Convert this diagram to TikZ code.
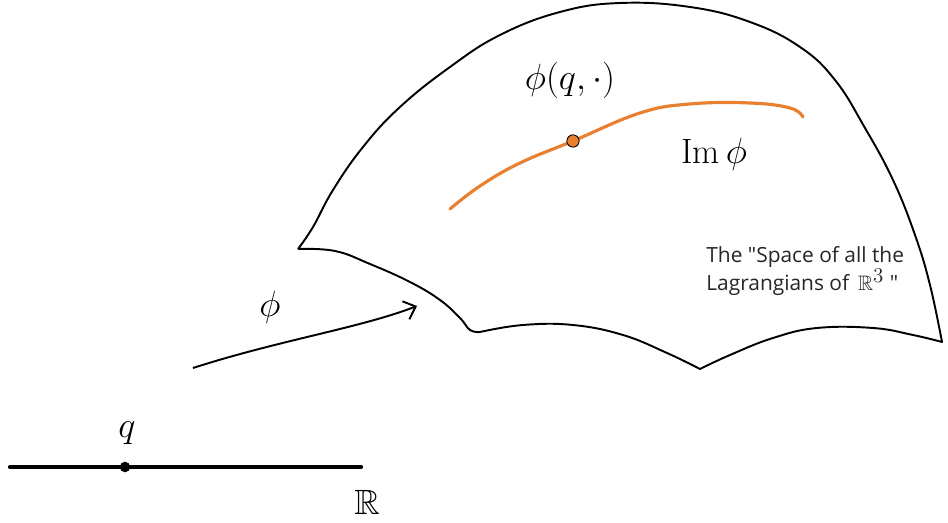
\documentclass[tikz,border=0pt]{standalone}
\usepackage{amssymb}
\usepackage{fontspec}
\newfontfamily\notefont{Open Sans}
\usepackage{tikz}
\usetikzlibrary{arrows.meta, positioning}

\definecolor{curveorange}{RGB}{232,128,48}

\begin{document}
\begin{tikzpicture}[x=0.02cm, y=-0.02cm]
        \tikzset{
            surface edge/.style={
                    draw=black, line width=1.1pt, line join=round
                },
            image curve/.style={
                    draw=curveorange, line width=1.8pt, line cap=round
                },
            map arrow/.style={
                    line width=1.1pt, -{Straight Barb[length=6pt, width=11pt]}
                },
            hand label/.style={
                    font=\fontsize{20}{22}\selectfont, inner sep=0pt
                },
            note label/.style={
                    font=\notefont\fontsize{11.9}{14.3}\selectfont, text=black!85,
                    align=left, inner sep=0pt, anchor=north west
                }
        }
        \useasboundingbox (0,0) rectangle (948,523);

        % the surface of Lagrangians
        \draw[surface edge] (298,249)
            -- plot[smooth, tension=0.7] coordinates {(298,249) (335,251) (370,264) (410,282) (440,300) (460,318) (470,330) (480,332)}
            -- plot[smooth, tension=0.7] coordinates {(480,332) (523,325) (573,325) (623,335) (667,353) (700,369)}
            -- plot[smooth, tension=0.7] coordinates {(700,369) (730,355) (773,338) (817,328) (873,328) (913,335) (942,342)}
            -- plot[smooth, tension=0.7] coordinates {(942,342) (930,285) (915,235) (893,180) (865,128) (835,80) (800,47) (750,22) (690,7) (620,3) (560,12) (500,35) (450,67) (400,107) (363,147) (333,190) (313,227) (298,249)};

        % image of phi
        \draw[image curve] plot[smooth, tension=0.7] coordinates {(450,209) (480,186) (520,163) (573,141) (640,113) (690,104) (750,103) (790,108) (803,117)};
        \node[circle, draw=black, line width=0.5pt, fill=curveorange, inner sep=0pt, minimum size=7pt] (qpoint) at (573,141) {};

        \node[hand label] (phiq) at (570,80) {$\phi(q,\cdot)$};
        \node[hand label] (imphi) at (714,154) {$\mathrm{Im}\,\phi$};
        \node[note label] (space) at (706,246) {The "Space of all the\\Lagrangians of \,$\mathbb{R}^{\textstyle 3}$ "};

        % the real line
        \coordinate (lineL) at (10,467);
        \coordinate (lineR) at (361,467);
        \draw[line width=2.4pt, line cap=round] (lineL) -- (lineR);
        \node[circle, fill=black, inner sep=0pt, minimum size=6pt] (q) at (125,467) {};
        \node[hand label] (qlabel) at (127,433) {$q$};
        \node[hand label] (reals) at (367,502) {$\mathbb{R}$};

        % the map
        \coordinate (mapstart) at (193,368);
        \coordinate (mapend) at (417,306);
        \draw[map arrow] (mapstart) .. controls (280,340) and (360,328) .. (mapend);
        \node[hand label] (phi) at (270,307) {$\phi$};
\end{tikzpicture}
\end{document}
